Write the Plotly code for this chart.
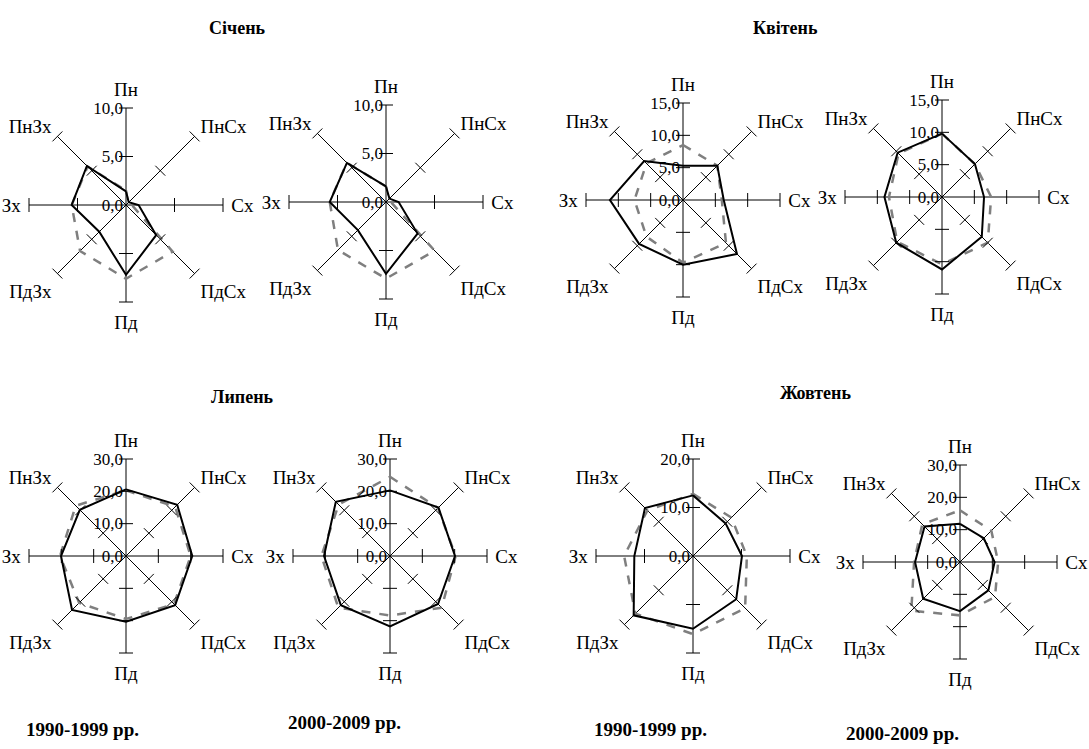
import plotly.graph_objects as go

directions = ["Пн", "ПнСх", "Сх", "ПдСх", "Пд", "ПдЗх", "Зх", "ПнЗх"]

# values (solid = black line, dashed = grey line)
jan_1990_solid = [1.4, 0.4, 1.3, 4.4, 7.2, 3.9, 5.6, 5.7]
jan_1990_dashed = [1.5, 0.3, 0.6, 6.8, 7.6, 6.7, 5.6, 5.6]
jan_2000_solid = [1.6, 0.5, 1.3, 4.6, 7.4, 4.1, 5.8, 5.7]
jan_2000_dashed = [1.6, 0.3, 0.5, 7.1, 7.9, 7.0, 5.8, 5.7]
apr_1990_solid = [5.3, 7.5, 6.3, 11.8, 10.0, 9.6, 11.3, 8.5]
apr_1990_dashed = [8.5, 7.5, 6.0, 9.4, 9.7, 8.0, 7.5, 8.0]
apr_2000_solid = [9.8, 7.2, 6.5, 8.7, 11.2, 10.0, 8.9, 9.7]
apr_2000_dashed = [9.8, 7.2, 7.6, 10.0, 10.4, 9.8, 8.2, 9.5]
jul_1990_solid = [20.6, 22.4, 20.5, 21.5, 20.3, 23.6, 20.1, 20.2]
jul_1990_dashed = [20.3, 21.5, 20.0, 21.0, 19.5, 20.5, 20.4, 22.0]
jul_2000_solid = [20.3, 21.2, 20.1, 21.0, 21.8, 21.5, 20.4, 23.7]
jul_2000_dashed = [24.5, 21.0, 20.3, 22.6, 18.4, 22.6, 21.2, 22.5]
oct_1990_solid = [12.5, 9.5, 10.1, 12.6, 15.0, 17.3, 12.1, 14.0]
oct_1990_dashed = [12.8, 11.2, 11.1, 15.2, 16.1, 16.8, 14.2, 13.3]
oct_2000_solid = [11.8, 10.4, 10.7, 12.4, 15.2, 16.1, 13.9, 15.5]
oct_2000_dashed = [16.0, 13.7, 11.8, 15.3, 16.5, 21.3, 14.2, 16.5]

axis_max = [10, 10, 15, 15, 30, 30, 20, 30]
axis_step = [5, 5, 5, 5, 10, 10, 10, 10]

month_titles = ["Січень", "Квітень", "Липень", "Жовтень"]
period_labels = ["1990-1999 рр.", "2000-2009 рр.", "1990-1999 рр.", "2000-2009 рр."]

panels = [
    (jan_1990_solid, jan_1990_dashed),
    (jan_2000_solid, jan_2000_dashed),
    (apr_1990_solid, apr_1990_dashed),
    (apr_2000_solid, apr_2000_dashed),
    (jul_1990_solid, jul_1990_dashed),
    (jul_2000_solid, jul_2000_dashed),
    (oct_1990_solid, oct_1990_dashed),
    (oct_2000_solid, oct_2000_dashed),
]

W, H = 1089, 749
centers = [(126, 205), (386, 202), (683, 200), (942, 197),
           (126, 556), (390, 556), (693, 556), (960, 562)]
R = 97
SERIF = "Liberation Serif, Times New Roman, serif"

fig = go.Figure()
layout = {}
for i, ((solid, dashed), (cx, cy)) in enumerate(zip(panels, centers)):
    pid = "polar" if i == 0 else f"polar{i + 1}"
    sub = pid
    theta = directions + [directions[0]]
    fig.add_trace(go.Scatterpolar(
        r=dashed + [dashed[0]], theta=theta, mode="lines", subplot=sub,
        line=dict(color="#7f7f7f", width=2.5, dash="dash"), showlegend=False))
    fig.add_trace(go.Scatterpolar(
        r=solid + [solid[0]], theta=theta, mode="lines", subplot=sub,
        line=dict(color="black", width=2), showlegend=False))
    # tick marks along every spoke
    ticks = list(range(axis_step[i], axis_max[i] + 1, axis_step[i]))
    tr, tt, ta = [], [], []
    for k, d in enumerate(directions):
        for t in ticks:
            tr.append(t)
            tt.append(d)
            ta.append(k * 45 + 90)
    fig.add_trace(go.Scatterpolar(
        r=tr, theta=tt, mode="markers", subplot=sub,
        marker=dict(symbol="line-ns", size=10, angle=ta,
                    line=dict(color="black", width=1)),
        showlegend=False, hoverinfo="skip"))
    layout[pid] = dict(
        domain=dict(x=[(cx - R) / W, (cx + R) / W],
                    y=[1 - (cy + R) / H, 1 - (cy - R) / H]),
        bgcolor="white",
        radialaxis=dict(range=[0, axis_max[i]], tickvals=[0] + ticks,
                        tickformat=".1f", ticksuffix="\u00a0", angle=90,
                        side="counterclockwise", tickangle=90,
                        showline=False, showgrid=False, ticks="",
                        tickfont=dict(family=SERIF, size=17, color="black")),
        angularaxis=dict(direction="clockwise", rotation=90, type="category",
                         categoryarray=directions,
                         showline=False, showgrid=True, gridcolor="black", gridwidth=1,
                         ticks="outside", ticklen=4, tickcolor="rgba(0,0,0,0)",
                         tickfont=dict(family=SERIF, size=19, color="black")),
    )

annotations = []
for txt, (x, y) in zip(month_titles, [(237, 28), (785, 28), (242, 397), (815, 393)]):
    annotations.append(dict(text=f"<b>{txt}</b>", x=x / W, y=1 - y / H, xref="paper", yref="paper",
                            xanchor="center", yanchor="middle", showarrow=False,
                            font=dict(family=SERIF, size=18, color="black")))
for txt, (x, y) in zip(period_labels, [(82, 729), (344, 722), (650, 729), (902, 733)]):
    annotations.append(dict(text=f"<b>{txt}</b>", x=x / W, y=1 - y / H, xref="paper", yref="paper",
                            xanchor="center", yanchor="middle", showarrow=False,
                            font=dict(family=SERIF, size=19, color="black")))

fig.update_layout(width=W, height=H, margin=dict(l=0, r=0, t=0, b=0),
                  paper_bgcolor="white", plot_bgcolor="white", separators=", ",
                  annotations=annotations, showlegend=False, **layout)
fig.write_html("out.html")
